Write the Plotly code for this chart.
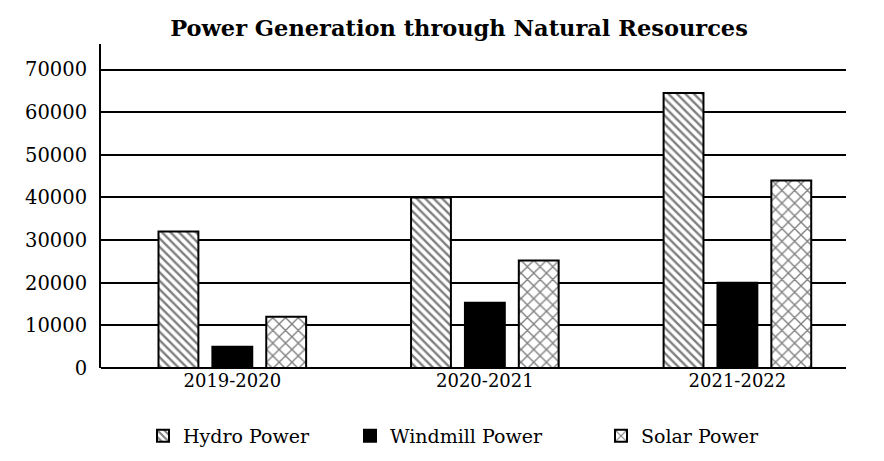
import plotly.graph_objects as go

years = ["2019-2020", "2020-2021", "2021-2022"]
hydro = [32000, 40000, 64500]
windmill = [5000, 15300, 20000]
solar = [12000, 25200, 44000]
y_ticks = [0, 10000, 20000, 30000, 40000, 50000, 60000, 70000]

W, H = 884, 461
OFF = 7  # page body offset
# desired plot area in page pixels
PX0, PX1, PY0, PY1 = 100, 845, 43, 367
L = PX0 - OFF
R = W - (PX1 - OFF)
T = PY0 - OFF
B = H - (PY1 - OFF)
pw = PX1 - PX0
ph = PY1 - PY0

def px2paper_x(px):
    return (px - PX0) / pw

def px2paper_y(py):
    return (PY1 - py) / ph

fig = go.Figure()
series = [
    ("Hydro Power", hydro, dict(shape="\\", size=6, solidity=0.4, fgcolor="black", bgcolor="white"), "white", "legend"),
    ("Windmill Power", windmill, None, "black", "legend2"),
    ("Solar Power", solar, dict(shape="x", size=9, solidity=0.28, fgcolor="black", bgcolor="white"), "white", "legend3"),
]
for name, vals, pat, col, lg in series:
    marker = dict(color=col, line=dict(color="black", width=2))
    if pat:
        marker["pattern"] = pat
    fig.add_trace(go.Bar(x=years, y=vals, name=name, marker=marker, legend=lg))

font = "DejaVu Serif"
legend_common = dict(orientation="h", yanchor="middle", xanchor="left",
                     font=dict(family=font, size=19, color="black"),
                     bgcolor="rgba(0,0,0,0)", itemsizing="constant")

fig.update_layout(
    width=W, height=H,
    margin=dict(l=L, r=R, t=T, b=B),
    paper_bgcolor="white", plot_bgcolor="white",
    barmode="group", bargap=0.36, bargroupgap=0.26,
    title=dict(text="<b>Power Generation through Natural Resources</b>",
               x=(458 - OFF) / W, xanchor="center",
               y=1 - (27 - OFF) / H, yanchor="middle",
               font=dict(family=font, size=22.5, color="black")),
    xaxis=dict(type="category", range=[-0.52, 2.43], showgrid=False,
               showline=False, ticks="", zeroline=False,
               tickfont=dict(family=font, size=18, color="black")),
    yaxis=dict(range=[0, 76000], tickvals=y_ticks, ticktext=[str(v) for v in y_ticks],
               showgrid=True, gridcolor="black", gridwidth=2,
               zeroline=True, zerolinecolor="black", zerolinewidth=2,
               showline=True, linecolor="black", linewidth=2, ticks="",
               ticklabelstandoff=8,
               tickfont=dict(family=font, size=19.5, color="black")),
    legend=dict(x=px2paper_x(142), y=px2paper_y(435), **legend_common),
    legend2=dict(x=px2paper_x(349), y=px2paper_y(435), **legend_common),
    legend3=dict(x=px2paper_x(600), y=px2paper_y(435), **legend_common),
    showlegend=True,
)

fig.write_html("out.html")
